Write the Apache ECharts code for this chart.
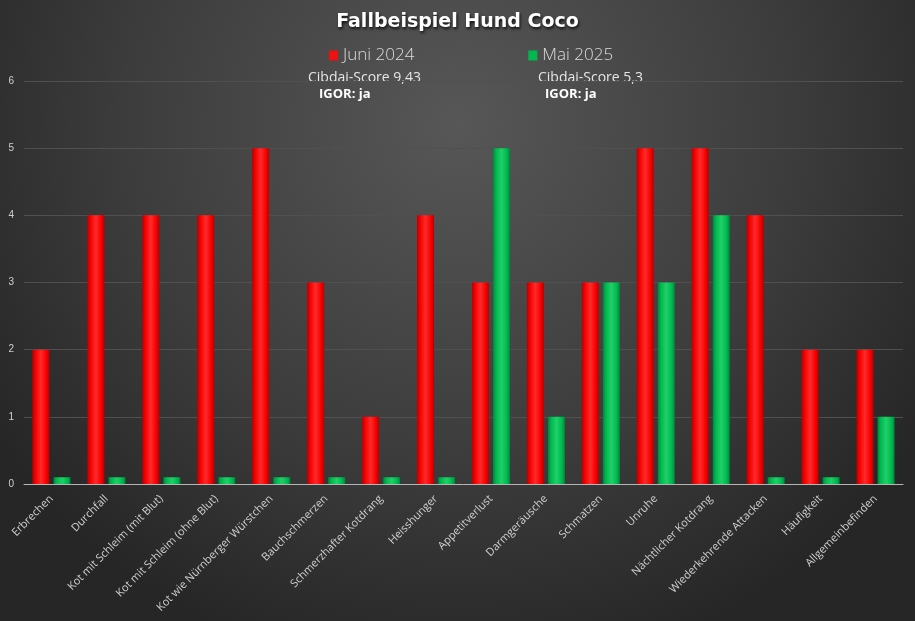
<!DOCTYPE html>
<html>
<head>
<meta charset="utf-8">
<title>Fallbeispiel Hund Coco</title>
<script src="https://cdn.jsdelivr.net/npm/echarts@6/dist/echarts.min.js"></script>
<style>
  html, body { margin: 0; padding: 0; background: #333; }
  #main { width: 915px; height: 621px; }
</style>
</head>
<body>
<div id="main"></div>
<script type="text/javascript">
// Daten aus dem Diagramm
var kategorien = ['Erbrechen', 'Durchfall', 'Kot mit Schleim (mit Blut)', 'Kot mit Schleim (ohne Blut)',
  'Kot wie Nürnberger Würstchen', 'Bauchschmerzen', 'Schmerzhafter Kotdrang', 'Heisshunger',
  'Appetitverlust', 'Darmgeräusche', 'Schmatzen', 'Unruhe', 'Nächtlicher Kotdrang',
  'Wiederkehrende Attacken', 'Häufigkeit', 'Allgemeinbefinden'];
var juni2024 = [2, 4, 4, 4, 5, 3, 1, 4, 3, 3, 3, 5, 5, 4, 2, 2];
var mai2025 = [0.1, 0.1, 0.1, 0.1, 0.1, 0.1, 0.1, 0.1, 5, 1, 3, 3, 4, 0.1, 0.1, 1];
var yTicks = [0, 1, 2, 3, 4, 5, 6];
var hinweise = [
  { score: 'Cibdai-Score 9,43', igor: 'IGOR: ja', x: 308, xi: 319 },
  { score: 'Cibdai-Score 5,3', igor: 'IGOR: ja', x: 538, xi: 545 }
];

var myChart = echarts.init(document.getElementById('main'));

function balken(hell, mitte, dunkel) {
  // seitlicher Verlauf fuer den 3D-Look
  return new echarts.graphic.LinearGradient(0, 0, 1, 0, [
    {offset: 0, color: dunkel},
    {offset: 0.18, color: mitte},
    {offset: 0.5, color: hell},
    {offset: 0.82, color: mitte},
    {offset: 1, color: dunkel}
  ]);
}

var texte = [];
hinweise.forEach(function (h) {
  texte.push({
    type: 'text', left: h.x, top: 71,
    style: { text: h.score, fill: '#e6e6e6', font: '14px "Open Sans", sans-serif' }
  });
  texte.push({
    type: 'text', left: h.xi, top: 88,
    style: { text: h.igor, fill: '#ffffff', font: 'bold 13px "Open Sans", sans-serif' }
  });
});

var option = {
  backgroundColor: new echarts.graphic.RadialGradient(0.5, 0.2, 0.9, [
    {offset: 0, color: '#575757'},
    {offset: 0.6, color: '#3c3c3c'},
    {offset: 1, color: '#262626'}
  ]),
  title: {
    text: 'Fallbeispiel Hund Coco',
    left: 'center',
    top: 8,
    textStyle: {
      color: '#ffffff', fontSize: 19, fontWeight: 'bold', fontFamily: '"DejaVu Sans", sans-serif',
      textShadowColor: 'rgba(0,0,0,0.8)', textShadowBlur: 3, textShadowOffsetX: 1, textShadowOffsetY: 2
    }
  },
  legend: {
    top: 42,
    left: 324,
    itemGap: 114,
    itemWidth: 9,
    itemHeight: 10,
    icon: 'rect',
    textStyle: { color: '#dcdcdc', fontSize: 17, fontFamily: '"Open Sans", sans-serif', fontWeight: 300 },
    data: [
      { name: 'Juni 2024', itemStyle: { color: '#ee1111' } },
      { name: 'Mai 2025', itemStyle: { color: '#00b850' } }
    ]
  },
  graphic: texte,
  grid: { left: 24, right: 12, top: 81, bottom: 137 },
  xAxis: {
    type: 'category',
    data: kategorien,
    axisLine: { lineStyle: { color: '#b5b5b5', width: 1 } },
    axisTick: { show: false },
    axisLabel: {
      interval: 0, rotate: 45, color: '#d0d0d0', fontSize: 11,
      fontFamily: '"Open Sans", sans-serif', margin: 13
    }
  },
  yAxis: {
    type: 'value',
    min: 0, max: 6, interval: 1,
    axisLine: { show: false },
    axisTick: { show: false },
    axisLabel: {
      color: '#d0d0d0', fontSize: 10, margin: 10,
      formatter: function (v) { return yTicks.indexOf(v) >= 0 ? String(v) : ''; }
    },
    splitLine: { lineStyle: { color: '#505050', width: 1 } }
  },
  series: [
    {
      name: 'Juni 2024',
      type: 'bar',
      data: juni2024,
      barWidth: 17,
      barGap: '24%',
      itemStyle: {
        color: balken('#ff2a2a', '#f50000', '#b80000')
      }
    },
    {
      name: 'Mai 2025',
      type: 'bar',
      data: mai2025,
      barWidth: 17,
      barGap: '24%',
      itemStyle: {
        color: balken('#1fd068', '#00b850', '#00853a')
      }
    }
  ]
};
myChart.setOption(option);
</script>
</body>
</html>
